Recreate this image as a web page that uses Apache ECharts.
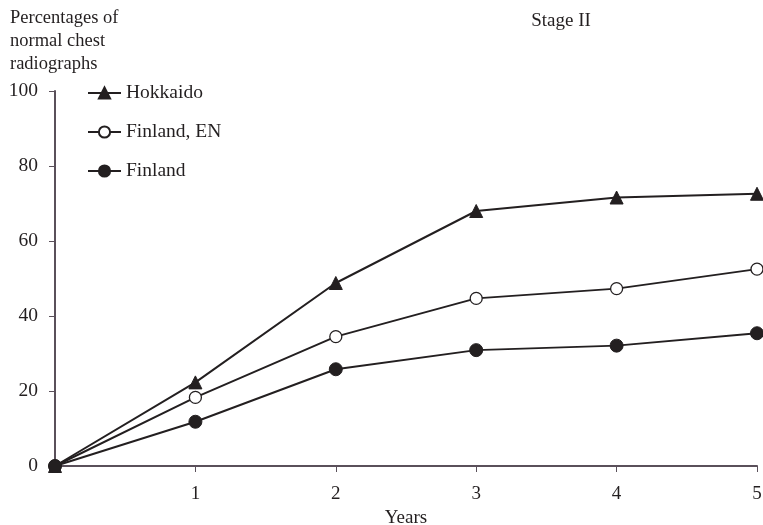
<!DOCTYPE html>
<html><head><meta charset="utf-8">
<script src="https://cdn.jsdelivr.net/npm/echarts@6/dist/echarts.min.js"></script>
<style>html,body{margin:0;padding:0;background:#fff}#c{width:763px;height:525px}</style>
</head><body><div id="c"></div>
<script>
const years = [0, 1, 2, 3, 4, 5];
const hokkaido = [0, 22.3, 48.8, 68.0, 71.6, 72.6];
const finlandEN = [0, 18.3, 34.5, 44.7, 47.3, 52.5];
const finland = [0, 11.8, 25.8, 30.9, 32.1, 35.4];
const seriesNames = ['Hokkaido', 'Finland, EN', 'Finland'];
const yTicks = [0, 20, 40, 60, 80, 100];

const font = 'Liberation Serif';
const textColor = '#231f20';
const axisColor = '#5a505a';
function pairs(arr){ return years.map((x,i)=>[x, arr[i]]); }

const chart = echarts.init(document.getElementById('c'), null, {renderer:'canvas'});
chart.setOption({
  backgroundColor: '#fff',
  animation: false,
  title: {
    text: 'Stage II', left: 561, top: 12, textAlign: 'center', padding: 0,
    textStyle: {fontFamily: font, fontSize: 19, fontWeight: 'normal', color: textColor}
  },
  graphic: [{
    type: 'text', left: 10, top: 7,
    style: {text: 'Percentages of\nnormal chest\nradiographs', font: '18.5px "Liberation Serif"', fill: textColor, lineHeight: 23}
  }],
  legend: {
    orient: 'vertical', left: 87, top: 83, padding: 0, itemGap: 19, itemWidth: 33, itemHeight: 14,
    data: seriesNames,
    textStyle: {fontFamily: font, fontSize: 19.5, color: textColor}
  },
  grid: {left: 55, right: 6, top: 91, bottom: 59, containLabel: false, outerBoundsMode: 'none'},
  xAxis: {
    type: 'value', min: 0, max: 5, interval: 1,
    name: 'Years', nameLocation: 'middle', nameGap: 38,
    nameTextStyle: {fontFamily: font, fontSize: 19, color: textColor},
    axisLine: {show: true, lineStyle: {color: axisColor, width: 2}},
    axisTick: {show: true, length: 6, lineStyle: {color: axisColor, width: 1}},
    axisLabel: {fontFamily: font, fontSize: 19, color: textColor, margin: 19,
      formatter: v => v === 0 ? '' : String(v)},
    splitLine: {show: false}
  },
  yAxis: {
    type: 'value', min: yTicks[0], max: yTicks[yTicks.length-1], interval: 20,
    axisLine: {show: true, lineStyle: {color: axisColor, width: 2}},
    axisTick: {show: true, length: 6, lineStyle: {color: axisColor, width: 1}},
    axisLabel: {fontFamily: font, fontSize: 19.5, color: textColor, margin: 17},
    splitLine: {show: false}
  },
  series: [
    {name: seriesNames[0], type: 'line', data: pairs(hokkaido), symbol: 'triangle', symbolSize: 13,
      lineStyle: {color: textColor, width: 2}, itemStyle: {color: textColor, borderColor: textColor, borderWidth: 1}, z: 3},
    {name: seriesNames[1], type: 'line', data: pairs(finlandEN), symbol: 'circle', symbolSize: 12,
      lineStyle: {color: textColor, width: 2}, itemStyle: {color: '#fff', borderColor: textColor, borderWidth: 1.3}, z: 4},
    {name: seriesNames[2], type: 'line', data: pairs(finland), symbol: 'circle', symbolSize: 13,
      lineStyle: {color: textColor, width: 2}, itemStyle: {color: textColor, borderColor: textColor, borderWidth: 1}, z: 5}
  ]
});
</script></body></html>
